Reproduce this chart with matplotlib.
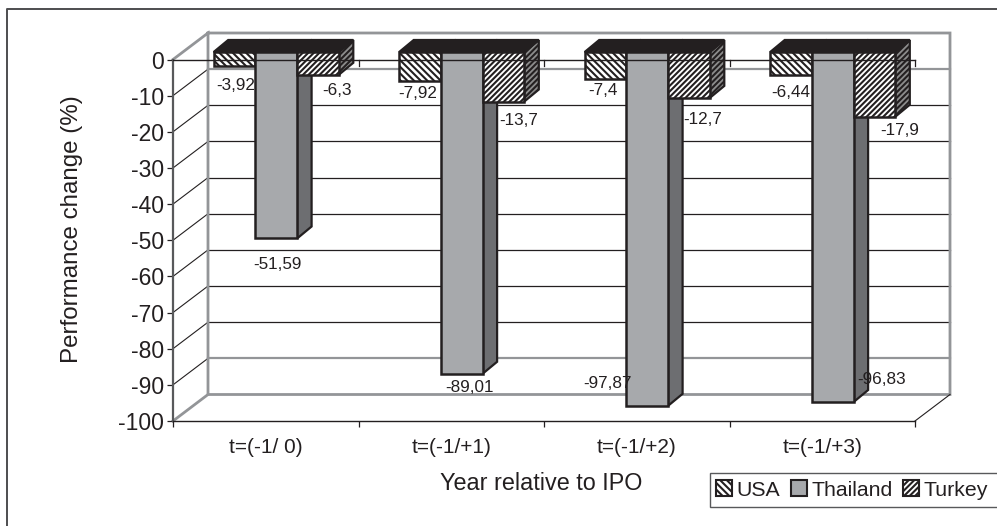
import matplotlib
matplotlib.use("Agg")
import matplotlib.pyplot as plt
from matplotlib.patches import Patch, Rectangle
import numpy as np

plt.rcParams['font.family'] = ['Liberation Sans', 'DejaVu Sans']
plt.rcParams['axes.unicode_minus'] = False
plt.rcParams['hatch.linewidth'] = 1.5
plt.rcParams['hatch.color'] = '#1a1a1a'

categories = ['t=(-1/ 0)', 't=(-1/+1)', 't=(-1/+2)', 't=(-1/+3)']
usa = [-3.92, -7.92, -7.4, -6.44]
thailand = [-51.59, -89.01, -97.87, -96.83]
turkey = [-6.3, -13.7, -12.7, -17.9]
yticks = [0, -10, -20, -30, -40, -50, -60, -70, -80, -90, -100]
usa_labels = ['-3,92', '-7,92', '-7,4', '-6,44']
thailand_labels = ['-51,59', '-89,01', '-97,87', '-96,83']
turkey_labels = ['-6,3', '-13,7', '-12,7', '-17,9']
# label offsets from the bar's lower front centre, in pixels (right, down)
usa_off = [(1, 19), (-2, 13), (-3, 12), (0, 17)]
thailand_off = [(1, 26), (8, 14), (-40, -22), (49, -23)]
turkey_off = [(19, 16), (15, 19), (14, 22), (25, 14)]

W, H = 997, 526
X0, X1, Y0, Y100 = 173.0, 915.0, 59.5, 421.0
UX = (X1 - X0) / 4
UY = (Y100 - Y0) / 100

fig = plt.figure(figsize=(W / 100, H / 100), dpi=100, facecolor='white')
ax = fig.add_axes([0, 0, 1, 1])
ax.set_xlim(-X0 / UX, (W - X0) / UX)
ax.set_ylim(-(H - Y0) / UY, Y0 / UY)
ax.patch.set_visible(False)

def dx(p): return p / UX
def dy(p): return p / UY

WALL_X, WALL_Y = dx(35), dy(26.5)
GRAY = '#939598'
DARK = '#231f20'
USA_H = '\\' * 5
TUR_H = '/' * 6

# figure frame (top and left only)
fig.add_artist(plt.Line2D([6.5 / W, 6.5 / W, 997 / W], [0, 1 - 8.5 / H, 1 - 8.5 / H],
                          color='#4d4d4f', lw=1.4))

# gridlines
for v in yticks[1:-1]:
    c = GRAY if v in (-10, -90) else DARK
    lw = 1.6 if v in (-10, -90) else 0.9
    ax.plot([0, WALL_X], [v, v + WALL_Y], color=DARK, lw=0.8, zorder=1)
    ax.plot([WALL_X, 4 + WALL_X], [v + WALL_Y, v + WALL_Y], color=c, lw=lw, zorder=1)

# walls
ax.plot([0, WALL_X, WALL_X, 4 + WALL_X, 4 + WALL_X, WALL_X],
        [0, WALL_Y, -100 + WALL_Y, -100 + WALL_Y, WALL_Y, WALL_Y],
        color=GRAY, lw=2.0, zorder=1.5, solid_joinstyle='miter')
ax.plot([WALL_X, 0], [-100 + WALL_Y, -100], color=GRAY, lw=2.0, zorder=1.5)
ax.plot([4, 4 + WALL_X], [-100, -100 + WALL_Y], color=DARK, lw=0.8, zorder=1.5)

# bars
BW = 41.7 / UX
SH_X, SH_Y = dx(10.5), dy(7.5)
DEP_X, DEP_Y = dx(14.5), dy(12)
offs = [-BW, 0, BW]
series = [
    (usa, '#ffffff', USA_H, '#8c8c8c', usa_labels, usa_off, 2),
    (thailand, '#a7a9ac', None, '#6d6e71', thailand_labels, thailand_off, 3),
    (turkey, '#ffffff', TUR_H, '#8c8c8c', turkey_labels, turkey_off, 4),
]
centers = np.arange(4) + 0.5
for idx, (vals, fc, h, sc, labs, lo, z) in enumerate(series):
    xs = centers + offs[idx] + SH_X
    for x, v in zip(xs, vals):
        l, r = x + BW / 2, x - BW / 2
        ax.fill([l, l + DEP_X, l + DEP_X, l], [SH_Y, SH_Y + DEP_Y, v + SH_Y + DEP_Y, v + SH_Y],
                facecolor=sc, edgecolor=DARK, lw=1.6, hatch=h, zorder=z, joinstyle='miter')
        ax.fill([r, r + DEP_X, l + DEP_X, l], [SH_Y, SH_Y + DEP_Y, SH_Y + DEP_Y, SH_Y],
                facecolor=DARK, edgecolor=DARK, lw=1.6, zorder=z, joinstyle='miter')
    ax.bar(xs, vals, width=BW, bottom=SH_Y, color=fc, edgecolor=DARK, lw=1.8, hatch=h, zorder=z + 0.1)

# front zero line with its ticks
ax.plot([0, 4], [0, 0], color=DARK, lw=1.0, zorder=6)
for x in range(1, 5):
    ax.plot([x, x], [0, dy(-6.5)], color=DARK, lw=0.9, zorder=1.8)

# data labels
for idx, (vals, fc, h, sc, labs, lo, z) in enumerate(series):
    xs = centers + offs[idx] + SH_X
    for x, v, t, (ox, oy) in zip(xs, vals, labs, lo):
        ax.annotate(t, (x, v + SH_Y), xytext=(ox * 0.72, -oy * 0.72), textcoords='offset points',
                    ha='center', va='center', fontsize=12.3, color=DARK, zorder=7)

# axes
for s in ('top', 'right'):
    ax.spines[s].set_visible(False)
ax.spines['left'].set_position(('data', 0))
ax.spines['left'].set_bounds(-100, 0)
ax.spines['left'].set_color('#58595b')
ax.spines['left'].set_linewidth(1.6)
ax.spines['bottom'].set_position(('data', -100))
ax.spines['bottom'].set_bounds(0, 4)
ax.spines['bottom'].set_color(DARK)
ax.spines['bottom'].set_linewidth(1.0)
ax.set_yticks(yticks)
ax.set_yticklabels([str(v) for v in yticks])
ax.tick_params(axis='y', direction='out', length=4.5, width=0.9, color=DARK,
               labelsize=16.5, labelcolor=DARK, pad=2)
ax.set_xticks(range(5))
ax.set_xticklabels([])
ax.set_xticks(centers, categories, minor=True)
ax.tick_params(axis='x', which='major', direction='out', length=4.5, width=0.9, color=DARK)
ax.tick_params(axis='x', which='minor', length=0, labelsize=15, labelcolor=DARK, pad=12)

fig.text(72 / W, 1 - 229 / H, 'Performance change (%)', rotation=90, ha='center', va='center',
         fontsize=17.4, color=DARK)
fig.text(541 / W, 1 - 484 / H, 'Year relative to IPO', ha='center', va='center',
         fontsize=16.8, color=DARK)

# legend
ax.add_patch(Rectangle((709.5 / W, 1 - 507 / H), 300 / W, 34 / H, transform=fig.transFigure,
                       facecolor='white', edgecolor='#58595b', lw=1.0, zorder=7.5))
handles = [Patch(facecolor='white', edgecolor=DARK, hatch=USA_H, lw=1.5),
           Patch(facecolor='#a7a9ac', edgecolor=DARK, lw=1.5),
           Patch(facecolor='white', edgecolor=DARK, hatch=TUR_H, lw=1.5)]
leg = ax.legend(handles, ['USA', 'Thailand', 'Turkey'], ncol=3, frameon=False,
                loc='center left', bbox_to_anchor=(716 / W, 1 - 490 / H), bbox_transform=fig.transFigure,
                borderaxespad=0, fontsize=15.3, handlelength=0.76, handleheight=0.76, handletextpad=0.2,
                columnspacing=0.5, borderpad=0, labelcolor=DARK)
leg.set_zorder(8)

fig.savefig('out.png', dpi=100)
